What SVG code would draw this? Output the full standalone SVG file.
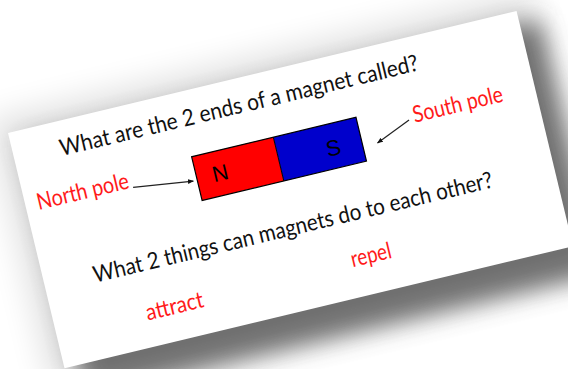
<svg xmlns="http://www.w3.org/2000/svg" width="568" height="369" viewBox="0 0 568 369">
  <defs>
    <filter id="blurBig" x="-30%" y="-30%" width="160%" height="160%">
      <feGaussianBlur stdDeviation="16"/>
    </filter>
    <filter id="blurMid" x="-30%" y="-30%" width="160%" height="160%">
      <feGaussianBlur stdDeviation="12"/>
    </filter>
    <marker id="arrow" viewBox="0 0 10 10" refX="9" refY="5" markerWidth="6" markerHeight="6" orient="auto" markerUnits="userSpaceOnUse">
      <path d="M0,1 L10,5 L0,9 Z" fill="#111"/>
    </marker>
    <style>
      .hand { font-family: "Lato", "Liberation Sans", sans-serif; font-size: 23px; }
      .q { fill: #111; }
      .ans { fill: #ff1a1a; }
      .pole { font-family: "Liberation Sans", Arial, sans-serif; font-size: 22px; fill: #000; text-anchor: middle; }
      .conn { stroke: #222; stroke-width: 1.2; fill: none; marker-end: url(#arrow); }
    </style>
  </defs>
  <rect width="568" height="369" fill="#ffffff"/>
  <g id="card" transform="translate(8,133) rotate(-13.5)">
    <rect x="-16" y="-16" width="555" height="274" fill="#000" opacity="0.12" filter="url(#blurBig)"/>
    <rect x="14" y="14" width="530" height="262" fill="#4a4a4a" opacity="0.75" filter="url(#blurMid)"/>
    <rect x="0" y="0" width="523" height="242" fill="#ffffff"/>

    <g id="question1">
      <text class="hand q" x="47" y="35" textLength="368" lengthAdjust="spacingAndGlyphs">What are the 2 ends of a magnet called?</text>
    </g>
    <g id="magnet">
      <rect x="173" y="66" width="84" height="45" fill="#ff0000"/>
      <rect x="257" y="66" width="85" height="45" fill="#0000cc"/>
      <rect x="173" y="66" width="169" height="45" fill="none" stroke="#000" stroke-width="1.2"/>
      <line x1="257" y1="66" x2="257" y2="111" stroke="#000" stroke-width="1"/>
      <text class="pole" x="197" y="96">N</text>
      <text class="pole" x="313" y="98">S</text>
    </g>
    <g id="north-pole">
      <text class="hand ans" x="12" y="82" textLength="94" lengthAdjust="spacingAndGlyphs">North pole</text>
    </g>
    <g id="south-pole">
      <text class="hand ans" x="398" y="85" textLength="92" lengthAdjust="spacingAndGlyphs">South pole</text>
    </g>
    <g id="question2">
      <text class="hand q" x="50" y="166" textLength="410" lengthAdjust="spacingAndGlyphs">What 2 things can magnets do to each other?</text>
    </g>
    <g id="attract">
      <text class="hand ans" x="92" y="215" textLength="59" lengthAdjust="spacingAndGlyphs">attract</text>
    </g>
    <g id="repel">
      <text class="hand ans" x="304" y="211" textLength="41" lengthAdjust="spacingAndGlyphs">repel</text>
    </g>
    <g id="connectors">
      <line class="conn" x1="109" y1="82" x2="169" y2="90"/>
      <line class="conn" x1="393" y1="81" x2="357" y2="96"/>
    </g>
  </g>
</svg>
